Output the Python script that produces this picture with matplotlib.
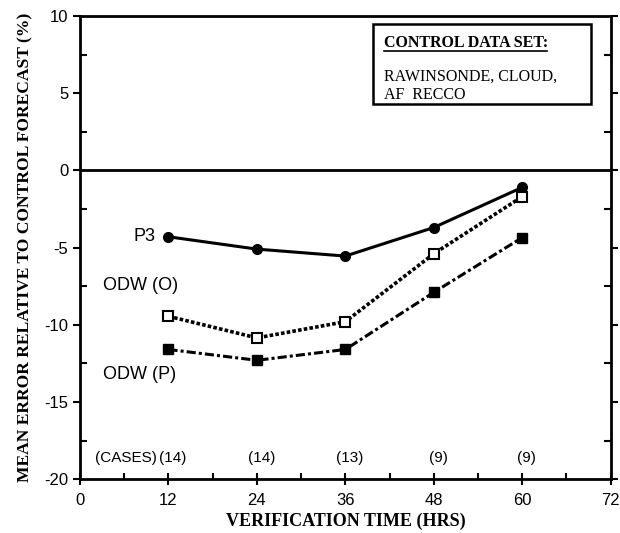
import numpy as np
import matplotlib.pyplot as plt
from matplotlib.ticker import MultipleLocator

plt.rcParams['axes.unicode_minus'] = False

hours = [12, 24, 36, 48, 60]
p3 = [-4.3, -5.1, -5.55, -3.7, -1.1]
odw_o = [-9.45, -10.85, -9.8, -5.4, -1.7]
odw_p = [-11.6, -12.3, -11.6, -7.9, -4.35]
cases = ["(14)", "(14)", "(13)", "(9)", "(9)"]

serif = "Liberation Serif"
sans = "Liberation Sans"

fig = plt.figure(figsize=(6.2, 5.33), dpi=100)
ax = fig.add_axes([0.129, 0.101, 0.856, 0.869])

ax.plot(hours, p3, color="black", lw=2.2, ls="-", marker="o", ms=7)
ax.plot(hours, odw_o, color="black", lw=2.6, ls=(0, (1, 0.6)), marker="s", ms=7,
        markerfacecolor="white", markeredgewidth=1.5)
ax.plot(hours, odw_p, color="black", lw=2.2, ls=(0, (3, 1, 1, 1)), marker="s", ms=7)

ax.axhline(0, color="black", lw=2)

ax.set_xlim(0, 72)
ax.set_ylim(-20, 10)
ax.xaxis.set_major_locator(MultipleLocator(12))
ax.xaxis.set_minor_locator(MultipleLocator(6))
ax.yaxis.set_major_locator(MultipleLocator(5))
ax.yaxis.set_minor_locator(MultipleLocator(2.5))
ax.tick_params(axis="x", which="major", direction="inout", length=8, width=1.5,
               labelsize=12, pad=6)
ax.tick_params(axis="x", which="minor", direction="in", length=4, width=1.5)
ax.tick_params(axis="y", which="major", direction="out", length=5, width=1.5,
               labelsize=12, right=True)
ax.tick_params(axis="y", which="minor", direction="in", length=5, width=1.5, right=True)
for lab in ax.get_xticklabels() + ax.get_yticklabels():
    lab.set_fontfamily(sans)
for s in ax.spines.values():
    s.set_linewidth(2)

ax.set_xlabel("VERIFICATION TIME (HRS)", fontfamily=serif, fontweight="bold",
              fontsize=13, labelpad=3)
ax.set_ylabel("MEAN ERROR RELATIVE TO CONTROL FORECAST (%)", fontfamily=serif,
              fontweight="bold", fontsize=12.6, labelpad=8)

# series labels
ax.text(10.3, p3[0], "P3", fontfamily=sans, fontsize=13, ha="right", va="center")
ax.text(3.1, -7.45, "ODW (O)", fontfamily=sans, fontsize=13, ha="left", va="center")
ax.text(3.1, -13.2, "ODW (P)", fontfamily=sans, fontsize=13, ha="left", va="center")

# cases row
ax.text(2.0, -18.6, "(CASES)", fontfamily=sans, fontsize=11, ha="left", va="center")
for h, c in zip(hours, cases):
    ax.text(h + 0.6, -18.6, c, fontfamily=sans, fontsize=11, ha="center", va="center")

# control data set box
box = plt.Rectangle((39.7, 4.3), 29.6, 5.15, fill=False, lw=1.8, color="black")
ax.add_patch(box)
ax.text(41.3, 8.25, "CONTROL DATA SET:", fontfamily=serif, fontweight="bold",
        fontsize=11.5, ha="left", va="center")
ax.plot([41.3, 63.3], [7.75, 7.75], color="black", lw=1.2)
ax.text(41.3, 6.1, "RAWINSONDE, CLOUD,", fontfamily=serif, fontsize=11.5,
        ha="left", va="center")
ax.text(41.3, 4.9, "AF  RECCO", fontfamily=serif, fontsize=11.5, ha="left", va="center")

plt.savefig("out.png", dpi=100)
